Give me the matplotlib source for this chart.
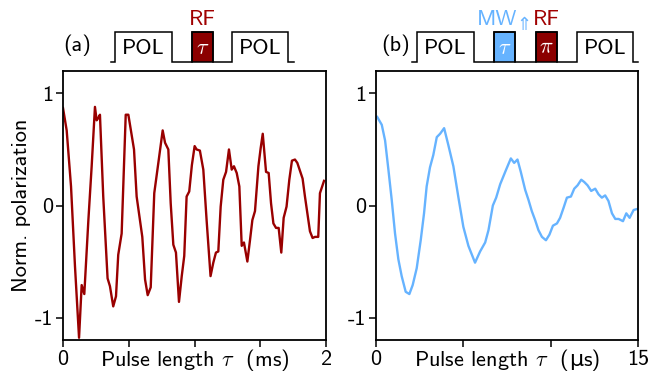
import numpy as np
import matplotlib
matplotlib.use('Agg')
import matplotlib.pyplot as plt
from matplotlib.patches import Rectangle
from matplotlib.offsetbox import TextArea, HPacker, AnchoredOffsetbox

plt.rcParams['font.family'] = ['cmss10', 'DejaVu Sans']
plt.rcParams['mathtext.fontset'] = 'cm'
plt.rcParams['axes.unicode_minus'] = False
plt.rcParams['axes.formatter.use_mathtext'] = False

RED = '#990000'
BLUE = '#66b3ff'
FS = 16

# (a) RF Rabi oscillation, tau in ms
tau_rf = [0.0, 0.028, 0.061, 0.091, 0.122, 0.142, 0.162, 0.193, 0.218, 0.243,
          0.256, 0.268, 0.281, 0.306, 0.339, 0.357, 0.382, 0.403, 0.420, 0.446,
          0.477, 0.497, 0.540, 0.560, 0.603, 0.624, 0.644, 0.667, 0.694, 0.725,
          0.758, 0.776, 0.801, 0.819, 0.839, 0.859, 0.882, 0.903, 0.922, 0.940,
          0.960, 0.980, 1.001, 1.016, 1.041, 1.067, 1.092, 1.122, 1.143, 1.163,
          1.181, 1.199, 1.219, 1.240, 1.262, 1.283, 1.300, 1.321, 1.341, 1.359,
          1.376, 1.402, 1.422, 1.440, 1.460, 1.486, 1.503, 1.519, 1.544, 1.564,
          1.582, 1.600, 1.620, 1.640, 1.660, 1.678, 1.700, 1.721, 1.741, 1.764,
          1.782, 1.822, 1.840, 1.878, 1.898, 1.916, 1.941, 1.954, 1.985]
pol_rf = [0.87, 0.67, 0.17, -0.54, -1.18, -0.71, -0.79, -0.13, 0.35, 0.88,
          0.76, 0.78, 0.81, 0.08, -0.65, -0.72, -0.90, -0.81, -0.44, -0.25,
          0.81, 0.81, 0.50, 0.08, -0.28, -0.66, -0.80, -0.73, 0.11, 0.38,
          0.67, 0.56, 0.50, 0.02, -0.35, -0.42, -0.86, -0.63, -0.45, 0.08,
          0.125, 0.36, 0.53, 0.50, 0.49, 0.32, -0.13, -0.63, -0.51, -0.42,
          -0.41, -0.01, 0.23, 0.30, 0.50, 0.32, 0.35, 0.29, 0.17, -0.36,
          -0.33, -0.50, -0.31, -0.13, -0.05, 0.35, 0.51, 0.64, 0.30, 0.29,
          0.02, -0.16, -0.20, -0.20, -0.42, -0.11, -0.01, 0.23, 0.40, 0.41,
          0.38, 0.24, 0.08, -0.23, -0.29, -0.28, -0.28, 0.11, 0.22]

# (b) MW Rabi oscillation, tau in us
tau_mw = [0.07, 0.33, 0.52, 0.71, 0.90, 1.09, 1.28, 1.47, 1.70, 1.91,
          2.10, 2.33, 2.56, 2.75, 2.90, 3.09, 3.28, 3.48, 3.67, 3.90,
          4.14, 4.43, 4.72, 5.00, 5.29, 5.67, 5.96, 6.25, 6.44, 6.69,
          6.88, 7.11, 7.45, 7.72, 7.91, 8.10, 8.29, 8.54, 8.73, 8.92,
          9.11, 9.30, 9.50, 9.73, 9.93, 10.13, 10.36, 10.54, 10.74, 10.93,
          11.16, 11.35, 11.54, 11.75, 11.92, 12.11, 12.32, 12.55, 12.74, 12.93,
          13.12, 13.31, 13.51, 13.70, 13.89, 14.14, 14.33, 14.52, 14.75, 14.98]
pol_mw = [0.79, 0.72, 0.58, 0.32, 0.05, -0.25, -0.48, -0.63, -0.77, -0.79,
          -0.71, -0.56, -0.31, -0.07, 0.17, 0.34, 0.45, 0.61, 0.64, 0.69,
          0.54, 0.35, 0.07, -0.19, -0.36, -0.51, -0.41, -0.33, -0.22, 0.00,
          0.07, 0.19, 0.32, 0.42, 0.38, 0.41, 0.30, 0.14, 0.05, -0.05,
          -0.13, -0.22, -0.28, -0.31, -0.26, -0.18, -0.16, -0.11, -0.02, 0.07,
          0.08, 0.15, 0.18, 0.23, 0.21, 0.18, 0.13, 0.15, 0.10, 0.07,
          0.09, 0.04, -0.07, -0.12, -0.12, -0.14, -0.07, -0.11, -0.04, -0.03]

W, H = 652, 373
fig = plt.figure(figsize=(W / 100, H / 100), dpi=100)

ax1 = fig.add_axes([63 / W, 1 - 340 / H, 263 / W, 269 / H])
ax2 = fig.add_axes([376 / W, 1 - 340 / H, 262 / W, 269 / H])

ax1.plot(tau_rf, pol_rf, color=RED, lw=1.7)
ax2.plot(tau_mw, pol_mw, color=BLUE, lw=1.7)


def xlabel(ax, parts):
    # parts: list of (text, family) so the upright mu can come from DejaVu
    boxes = [TextArea(t, textprops=dict(fontsize=FS, family=fam)) for t, fam in parts]
    pack = HPacker(children=boxes, align='baseline', pad=0, sep=0)
    box = AnchoredOffsetbox(loc='center', child=pack, pad=0, frameon=False,
                            bbox_to_anchor=(0.5, -0.075),
                            bbox_transform=ax.transAxes, borderpad=0)
    ax.add_artist(box)


for ax, xmax, xt in [(ax1, 2, [0, 0.5, 1, 1.5, 2]), (ax2, 15, [0, 5, 10, 15])]:
    ax.set_xlim(0, xmax)
    ax.set_ylim(-1.2, 1.2)
    ax.set_xticks(xt)
    ax.set_xticklabels([str(xt[0])] + [''] * (len(xt) - 2) + [str(xt[-1])])
    ax.set_yticks([-1, 0, 1])
    ax.set_yticklabels(['-1', '0', '1'])
    ax.tick_params(direction='out', length=5, width=1.1, labelsize=FS, pad=2)
    for s in ax.spines.values():
        s.set_linewidth(1.3)

cm = ['cmss10']
xlabel(ax1, [(r'Pulse length $\tau$  (ms)', cm)])
xlabel(ax2, [(r'Pulse length $\tau$  (', cm), ('μ', ['DejaVu Sans']), ('s)', cm)])

ax1.set_ylabel('Norm. polarization', fontsize=FS, labelpad=3)

# pulse sequence sketches on a pixel-coordinate overlay
ov = fig.add_axes([0, 0, 1, 1])
ov.set_xlim(0, W)
ov.set_ylim(H, 0)
ov.axis('off')

base, top = 61.7, 32.3


def sequence(x0, x1, boxes):
    xs, ys = [x0], [base]
    for (a, b, fill, label) in boxes:
        xs += [a, a, b, b]
        ys += [base, top, top, base]
        if fill is not None:
            ov.add_patch(Rectangle((a, top), b - a, base - top, facecolor=fill,
                                   edgecolor='black', lw=1.1, zorder=1))
        tc = 'white' if fill is not None else 'black'
        ov.text((a + b) / 2, 48, label, ha='center', va='center', color=tc,
                fontsize=FS, zorder=3)
    xs.append(x1)
    ys.append(base)
    ov.plot(xs, ys, color='black', lw=1.1, zorder=2, solid_joinstyle='miter')


sequence(110.7, 294.3, [(115, 171.7, None, 'POL'),
                        (191.7, 213.3, '#8b0000', r'$\tau$'),
                        (232.3, 288.3, None, 'POL')])
sequence(411.7, 638.3, [(417.3, 474, None, 'POL'),
                        (494, 515, BLUE, r'$\tau$'),
                        (535.7, 557.3, '#8b0000', r'$\pi$'),
                        (576.7, 633.3, None, 'POL')])

ov.text(202.5, 19.5, 'RF', color='#a00000', ha='center', va='center', fontsize=FS)
ov.text(546.5, 19.5, 'RF', color='#a00000', ha='center', va='center', fontsize=FS)
ov.text(497, 19.5, 'MW', color=BLUE, ha='center', va='center', fontsize=FS)
ov.text(524, 25.5, '⇑', color=BLUE, ha='center', va='center', fontsize=13,
        family=['DejaVu Sans'])
ov.text(77, 45, '(a)', ha='center', va='center', fontsize=FS)
ov.text(396, 45, '(b)', ha='center', va='center', fontsize=FS)

fig.savefig('out.png', dpi=100)
